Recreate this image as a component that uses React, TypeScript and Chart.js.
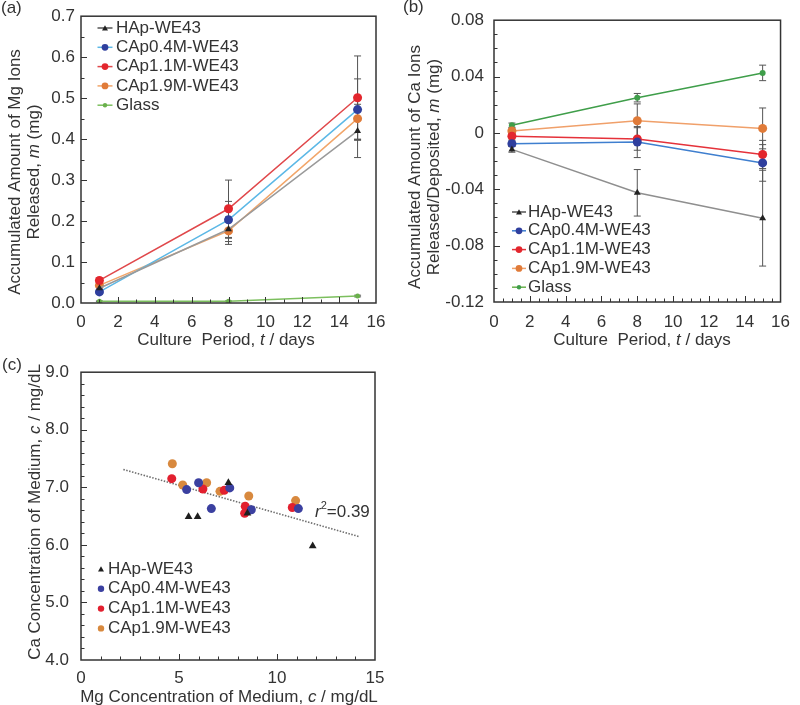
import React, { useEffect, useRef } from 'react';
import { Chart, registerables } from 'chart.js';

Chart.register(...registerables);

const FONT = '"Liberation Sans", Arial, Helvetica, sans-serif';
const TEXT = '#333333';
const FS = 17;

// ---------------- shared ----------------
const days = [1, 8, 15];
const names = ['HAp-WE43', 'CAp0.4M-WE43', 'CAp1.1M-WE43', 'CAp1.9M-WE43', 'Glass'];

// ---------------- (a) accumulated Mg released (mg) ----------------
const mgHAp = [0.036, 0.18, 0.42];
const mgCAp04 = [0.027, 0.203, 0.472];
const mgCAp11 = [0.055, 0.23, 0.501];
const mgCAp19 = [0.043, 0.176, 0.45];
const mgGlass = [0.004, 0.004, 0.017];
const mgErrHAp = [0.005, 0.03, 0.065];
const mgErrCAp04 = [0.005, 0.045, 0.075];
const mgErrCAp11 = [0.006, 0.07, 0.102];
const mgErrCAp19 = [0.006, 0.033, 0.05];
const mgErrGlass = [0.001, 0.001, 0.002];
const aXTicks = [0, 2, 4, 6, 8, 10, 12, 14, 16];
const aXLabels = ['0', '2', '4', '6', '8', '10', '12', '14', '16'];
const aYTicks = [0, 0.1, 0.2, 0.3, 0.4, 0.5, 0.6, 0.7];
const aYLabels = ['0.0', '0.1', '0.2', '0.3', '0.4', '0.5', '0.6', '0.7'];

// ---------------- (b) accumulated Ca released/deposited (mg) ----------------
const caHAp = [-0.0117, -0.0425, -0.0605];
const caCAp04 = [-0.0076, -0.0065, -0.0213];
const caCAp11 = [-0.0023, -0.0043, -0.0153];
const caCAp19 = [0.0014, 0.0086, 0.0032];
const caGlass = [0.0055, 0.025, 0.0426];
const caErrHAp = [0.002, 0.0165, 0.034];
const caErrCAp04 = [0.002, 0.011, 0.013];
const caErrCAp11 = [0.002, 0.008, 0.01];
const caErrCAp19 = [0.002, 0.012, 0.0145];
const caErrGlass = [0.0015, 0.003, 0.0055];
const bXTicks = aXTicks;
const bXLabels = aXLabels;
const bYTicks = [-0.12, -0.08, -0.04, 0, 0.04, 0.08];
const bYLabels = ['-0.12', '-0.08', '-0.04', '0', '0.04', '0.08'];

// ---------------- (c) Mg vs Ca concentration of medium (mg/dL) ----------------
const hapMg = [5.49, 5.95, 7.52, 8.49, 11.82];
const hapCa = [6.49, 6.49, 7.08, 6.55, 5.98];
const c04Mg = [5.39, 6.0, 6.65, 7.59, 8.69, 11.09];
const c04Ca = [6.96, 7.08, 6.63, 6.99, 6.61, 6.63];
const c11Mg = [4.63, 6.22, 7.31, 8.38, 8.35, 10.78];
const c11Ca = [7.15, 6.97, 6.95, 6.67, 6.55, 6.65];
const c19Mg = [4.66, 5.19, 6.41, 7.09, 8.56, 10.95];
const c19Ca = [7.41, 7.04, 7.08, 6.93, 6.85, 6.77];
const trendMg = [2.16, 14.23];
const trendCa = [7.31, 6.14];
const r2Value = '0.39';
const cXTicks = [0, 5, 10, 15];
const cXLabels = ['0', '5', '10', '15'];
const cYTicks = [4, 5, 6, 7, 8, 9];
const cYLabels = ['4.0', '5.0', '6.0', '7.0', '8.0', '9.0'];

// ---------------- helpers ----------------
const pts = (xs: number[], ys: number[]) => xs.map((x, i) => ({ x, y: ys[i] }));

type Seg = { t: string; i?: boolean; sup?: boolean };

function drawRich(ctx: CanvasRenderingContext2D, segs: Seg[], x: number, y: number, rot: boolean, align: 'center' | 'left') {
  ctx.save();
  ctx.translate(x, y);
  if (rot) ctx.rotate(-Math.PI / 2);
  ctx.textBaseline = 'middle';
  ctx.textAlign = 'left';
  ctx.fillStyle = TEXT;
  const fontOf = (s: Seg) => `${s.i ? 'italic ' : ''}${s.sup ? 11 : FS}px ${FONT}`;
  let w = 0;
  for (const s of segs) {
    ctx.font = fontOf(s);
    w += ctx.measureText(s.t).width;
  }
  let cx = align === 'center' ? -w / 2 : 0;
  for (const s of segs) {
    ctx.font = fontOf(s);
    ctx.fillText(s.t, cx, s.sup ? -6 : 0);
    cx += ctx.measureText(s.t).width;
  }
  ctx.restore();
}

function drawMarker(ctx: CanvasRenderingContext2D, style: string, x: number, y: number, r: number, fill: string) {
  ctx.beginPath();
  if (style === 'triangle') {
    let a = 0;
    const R = r * 1.15;
    ctx.moveTo(x + Math.sin(a) * R, y - Math.cos(a) * R + R * 0.2);
    a += (2 * Math.PI) / 3;
    ctx.lineTo(x + Math.sin(a) * R, y - Math.cos(a) * R + R * 0.2);
    a += (2 * Math.PI) / 3;
    ctx.lineTo(x + Math.sin(a) * R, y - Math.cos(a) * R + R * 0.2);
    ctx.closePath();
  } else {
    ctx.arc(x, y, r, 0, Math.PI * 2);
  }
  ctx.fillStyle = fill;
  ctx.fill();
}

interface DecorCfg {
  xMinor: number;
  xMajor: number;
  yMinor: number;
  yMajor: number;
  errors?: (number[] | null)[];
  xTitle: { segs: Seg[]; x: number; y: number };
  yTitles: { segs: Seg[]; x: number; y: number }[];
  panel: { t: string; x: number; y: number };
  legend: { x: number; y: number; dy: number; half: number; textX: number };
  notes?: { segs: Seg[]; x: number; y: number }[];
}

function decor(d: DecorCfg) {
  return {
    id: 'decor',
    beforeDatasetsDraw(chart: any) {
      if (!d.errors) return;
      const ctx = chart.ctx as CanvasRenderingContext2D;
      const xs = chart.scales.x;
      const ys = chart.scales.y;
      ctx.save();
      ctx.strokeStyle = '#555555';
      ctx.lineWidth = 1;
      chart.data.datasets.forEach((ds: any, i: number) => {
        const e = d.errors![i];
        if (!e) return;
        ds.data.forEach((p: any, j: number) => {
          const px = xs.getPixelForValue(p.x);
          const y1 = ys.getPixelForValue(p.y - e[j]);
          const y2 = ys.getPixelForValue(p.y + e[j]);
          ctx.beginPath();
          ctx.moveTo(px, y1);
          ctx.lineTo(px, y2);
          ctx.moveTo(px - 3.5, y1);
          ctx.lineTo(px + 3.5, y1);
          ctx.moveTo(px - 3.5, y2);
          ctx.lineTo(px + 3.5, y2);
          ctx.stroke();
        });
      });
      ctx.restore();
    },
    afterDraw(chart: any) {
      const ctx = chart.ctx as CanvasRenderingContext2D;
      const a = chart.chartArea;
      const xs = chart.scales.x;
      const ys = chart.scales.y;
      ctx.save();
      // frame
      ctx.strokeStyle = '#333333';
      ctx.lineWidth = 1.5;
      ctx.strokeRect(a.left, a.top, a.right - a.left, a.bottom - a.top);
      // inward ticks
      ctx.lineWidth = 1;
      const isMajor = (v: number, m: number) => Math.abs(v / m - Math.round(v / m)) < 1e-6;
      ctx.beginPath();
      const nx = Math.round((xs.max - xs.min) / d.xMinor);
      for (let k = 1; k < nx; k++) {
        const v = xs.min + k * d.xMinor;
        const px = Math.round(xs.getPixelForValue(v)) + 0.5;
        const len = isMajor(v, d.xMajor) ? 6 : 3.5;
        ctx.moveTo(px, a.bottom);
        ctx.lineTo(px, a.bottom - len);
      }
      const ny = Math.round((ys.max - ys.min) / d.yMinor);
      for (let k = 1; k < ny; k++) {
        const v = ys.min + k * d.yMinor;
        const py = Math.round(ys.getPixelForValue(v)) + 0.5;
        const len = isMajor(v, d.yMajor) ? 6 : 3.5;
        ctx.moveTo(a.left, py);
        ctx.lineTo(a.left + len, py);
      }
      ctx.stroke();
      // titles
      drawRich(ctx, d.xTitle.segs, d.xTitle.x, d.xTitle.y, false, 'center');
      d.yTitles.forEach((t) => drawRich(ctx, t.segs, t.x, t.y, true, 'center'));
      drawRich(ctx, [{ t: d.panel.t }], d.panel.x, d.panel.y, false, 'left');
      (d.notes || []).forEach((n) => drawRich(ctx, n.segs, n.x, n.y, false, 'left'));
      // legend
      const L = d.legend;
      let row = 0;
      chart.data.datasets.forEach((ds: any) => {
        if (ds.noLegend) return;
        const y = L.y + row * L.dy;
        if (L.half > 0) {
          ctx.strokeStyle = ds.legendLine || ds.borderColor;
          ctx.lineWidth = 1.5;
          ctx.beginPath();
          ctx.moveTo(L.x - L.half, y);
          ctx.lineTo(L.x + L.half, y);
          ctx.stroke();
        }
        drawMarker(ctx, ds.pointStyle, L.x, y, ds.legendRadius, ds.pointBackgroundColor);
        ctx.fillStyle = TEXT;
        ctx.font = `${FS}px ${FONT}`;
        ctx.textBaseline = 'middle';
        ctx.textAlign = 'left';
        ctx.fillText(ds.label, L.textX, y);
        row++;
      });
      ctx.restore();
    },
  };
}

function linScale(min: number, max: number, values: number[], labels: string[], isX: boolean, fit: number, pad: number) {
  return {
    type: 'linear',
    min,
    max,
    afterBuildTicks: (s: any) => {
      s.ticks = values.map((v) => ({ value: v }));
    },
    afterFit: (s: any) => {
      if (isX) s.height = fit;
      else s.width = fit;
    },
    ticks: {
      callback: (_v: any, i: number) => labels[i],
      font: { family: FONT, size: FS },
      color: TEXT,
      padding: pad,
      autoSkip: false,
      maxRotation: 0,
    },
    grid: { display: false, drawTicks: false },
    border: { display: false },
    title: { display: false },
  };
}

function lineDs(label: string, ys: number[], marker: string, line: string, style: string, r: number, extra: any = {}) {
  return {
    label,
    data: pts(days, ys),
    borderColor: line,
    backgroundColor: marker,
    pointBackgroundColor: marker,
    pointBorderColor: marker,
    pointBorderWidth: 0,
    pointStyle: style,
    pointRadius: r,
    legendRadius: r * 0.75,
    legendLine: line,
    borderWidth: 1.5,
    tension: 0,
    fill: false,
    ...extra,
  };
}

// ---------------- chart configs ----------------
function configA(): any {
  return {
    type: 'line',
    data: {
      datasets: [
        lineDs(names[0], mgHAp, '#222222', '#9a9a9a', 'triangle', 4, { legendLine: '#555555' }),
        lineDs(names[1], mgCAp04, '#2f3f9e', '#5cb8e6', 'circle', 4.5),
        lineDs(names[2], mgCAp11, '#e3262d', '#e0484b', 'circle', 4.5),
        lineDs(names[3], mgCAp19, '#e07b39', '#f2a66a', 'circle', 4.5),
        lineDs(names[4], mgGlass, '#6ab04c', '#7cbf5e', 'circle', 2.5, { legendRadius: 2.2 }),
      ],
    },
    options: {
      responsive: false,
      animation: false,
      events: [],
      layout: { padding: { left: 0, top: 5, right: 24, bottom: 0 }, autoPadding: false },
      plugins: { legend: { display: false }, tooltip: { enabled: false } },
      scales: {
        x: linScale(0, 16, aXTicks, aXLabels, true, 47, 9),
        y: linScale(0, 0.7, aYTicks, aYLabels, false, 81, 6),
      },
    },
    plugins: [
      decor({
        xMinor: 1,
        xMajor: 2,
        yMinor: 0.05,
        yMajor: 0.1,
        errors: [mgErrHAp, mgErrCAp04, mgErrCAp11, mgErrCAp19, mgErrGlass],
        xTitle: { segs: [{ t: 'Culture  Period, ' }, { t: 't', i: true }, { t: ' / days' }], x: 226, y: 340 },
        yTitles: [
          { segs: [{ t: 'Accumulated Amount of Mg Ions' }], x: 15, y: 172 },
          { segs: [{ t: 'Released, ' }, { t: 'm', i: true }, { t: ' (mg)' }], x: 34, y: 172 },
        ],
        panel: { t: '(a)', x: 1, y: 8 },
        legend: { x: 105, y: 28, dy: 19.3, half: 7.5, textX: 116 },
      }),
    ],
  };
}

function configB(): any {
  return {
    type: 'line',
    data: {
      datasets: [
        lineDs(names[0], caHAp, '#222222', '#8f8f8f', 'triangle', 4, { legendLine: '#555555' }),
        lineDs(names[1], caCAp04, '#2f3f9e', '#3f7fcf', 'circle', 4.5),
        lineDs(names[2], caCAp11, '#e3262d', '#e5323a', 'circle', 4.5),
        lineDs(names[3], caCAp19, '#e07b39', '#f0a06a', 'circle', 4.5),
        lineDs(names[4], caGlass, '#3f9e4a', '#3f9e4a', 'circle', 3, { legendRadius: 2.2, legendLine: '#6ab04c' }),
      ],
    },
    options: {
      responsive: false,
      animation: false,
      events: [],
      layout: { padding: { left: 0, top: 6, right: 11, bottom: 0 }, autoPadding: false },
      plugins: { legend: { display: false }, tooltip: { enabled: false } },
      scales: {
        x: linScale(0, 16, bXTicks, bXLabels, true, 48, 10),
        y: linScale(-0.12, 0.08, bYTicks, bYLabels, false, 94, 10),
      },
    },
    plugins: [
      decor({
        xMinor: 0.5,
        xMajor: 2,
        yMinor: 0.01,
        yMajor: 0.04,
        errors: [caErrHAp, caErrCAp04, caErrCAp11, caErrCAp19, caErrGlass],
        xTitle: { segs: [{ t: 'Culture  Period, ' }, { t: 't', i: true }, { t: ' / days' }], x: 242, y: 340 },
        yTitles: [
          { segs: [{ t: 'Accumulated Amount of Ca Ions' }], x: 15, y: 167 },
          { segs: [{ t: 'Released/Deposited, ' }, { t: 'm', i: true }, { t: ' (mg)' }], x: 34, y: 167 },
        ],
        panel: { t: '(b)', x: 3, y: 7 },
        legend: { x: 119, y: 212, dy: 18.8, half: 7, textX: 128 },
      }),
    ],
  };
}

function scatterDs(label: string, xs: number[], ys: number[], color: string, style: string, r: number) {
  return {
    type: 'scatter',
    label,
    data: pts(xs, ys),
    backgroundColor: color,
    borderColor: color,
    pointBackgroundColor: color,
    pointBorderColor: color,
    pointBorderWidth: 0,
    pointStyle: style,
    pointRadius: r,
    legendRadius: style === 'triangle' ? 3 : 3.2,
    showLine: false,
  };
}

function configC(): any {
  return {
    type: 'scatter',
    data: {
      datasets: [
        scatterDs(names[0], hapMg, hapCa, '#1e1e1e', 'triangle', 4.5),
        scatterDs(names[1], c04Mg, c04Ca, '#3b40a0', 'circle', 4.5),
        scatterDs(names[2], c11Mg, c11Ca, '#e2202f', 'circle', 4.5),
        scatterDs(names[3], c19Mg, c19Ca, '#d8893e', 'circle', 4.5),
        {
          type: 'line',
          label: 'trend',
          noLegend: true,
          data: pts(trendMg, trendCa),
          borderColor: '#6f6f6f',
          borderWidth: 1.6,
          borderDash: [1.5, 1.5],
          pointRadius: 0,
          showLine: true,
          fill: false,
        },
      ],
    },
    options: {
      responsive: false,
      animation: false,
      events: [],
      layout: { padding: { left: 0, top: 13, right: 25, bottom: 0 }, autoPadding: false },
      plugins: { legend: { display: false }, tooltip: { enabled: false } },
      scales: {
        x: linScale(0, 15, cXTicks, cXLabels, true, 45, 8),
        y: linScale(4, 9, cYTicks, cYLabels, false, 81, 12),
      },
    },
    plugins: [
      decor({
        xMinor: 1,
        xMajor: 5,
        yMinor: 0.2,
        yMajor: 1,
        xTitle: { segs: [{ t: 'Mg Concentration of Medium, ' }, { t: 'c', i: true }, { t: ' / mg/dL' }], x: 229, y: 347 },
        yTitles: [{ segs: [{ t: 'Ca Concentration of Medium, ' }, { t: 'c', i: true }, { t: ' / mg/dL' }], x: 35, y: 162 }],
        panel: { t: '(c)', x: 2, y: 15 },
        legend: { x: 101, y: 219, dy: 19.8, half: 0, textX: 108 },
        notes: [{ segs: [{ t: 'r', i: true }, { t: '2', sup: true }, { t: '=' + r2Value }], x: 315, y: 162 }],
      }),
    ],
  };
}

function ChartPanel({ left, top, width, height, build }: { left: number; top: number; width: number; height: number; build: () => any }) {
  const ref = useRef<HTMLCanvasElement>(null);
  useEffect(() => {
    const chart = new Chart(ref.current as HTMLCanvasElement, build());
    return () => chart.destroy();
  }, []);
  return (
    <div style={{ position: 'absolute', left, top, width, height }}>
      <canvas ref={ref} width={width} height={height} style={{ width, height, display: 'block' }} />
    </div>
  );
}

export default function App() {
  return (
    <div style={{ position: 'absolute', left: 0, top: 0, width: 800, height: 705, background: '#ffffff', overflow: 'hidden' }}>
      <ChartPanel left={0} top={0} width={400} height={350} build={configA} />
      <ChartPanel left={400} top={0} width={400} height={350} build={configB} />
      <ChartPanel left={0} top={350} width={400} height={355} build={configC} />
    </div>
  );
}
